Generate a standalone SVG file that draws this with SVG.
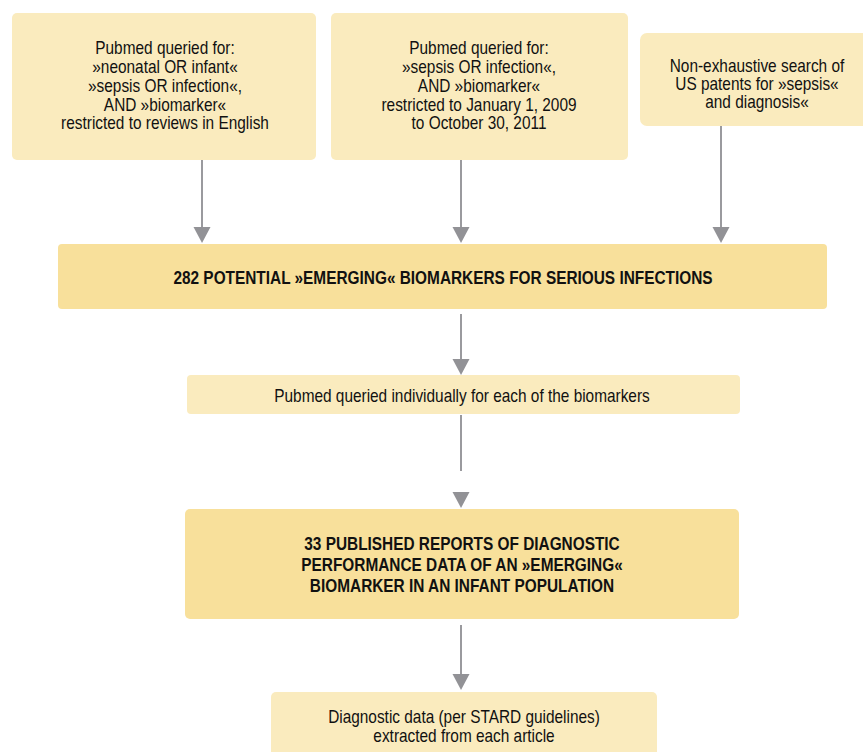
<svg xmlns="http://www.w3.org/2000/svg" xmlns:xlink="http://www.w3.org/1999/xlink" width="863" height="752" viewBox="0 0 863 752">
<style>
.lt{fill:#FAEBBE}
.dk{fill:#F8E09B}
.t{font-family:"Liberation Sans",Arial,sans-serif;font-size:17.5px;fill:#111;text-anchor:middle}
.b{font-weight:bold}
.ln{stroke:#9a9a9e;stroke-width:2;fill:none}
.ah{fill:#929296}
</style>
<defs>
<path id="ah" d="M-8.5,-16 L8.5,-16 L0,0 Z"/>
</defs>
<rect width="863" height="752" fill="#fff"/>
<g id="connectors">
<line class="ln" x1="202" y1="160" x2="202" y2="230"/>
<use href="#ah" class="ah" x="202" y="243"/>
<line class="ln" x1="461" y1="160" x2="461" y2="230"/>
<use href="#ah" class="ah" x="461" y="243"/>
<line class="ln" x1="721" y1="126" x2="721" y2="230"/>
<use href="#ah" class="ah" x="721" y="243"/>
<line class="ln" x1="461" y1="314" x2="461" y2="362"/>
<use href="#ah" class="ah" x="461" y="375"/>
<line class="ln" x1="461" y1="415" x2="461" y2="471"/>
<use href="#ah" class="ah" x="461" y="508"/>
<line class="ln" x1="461" y1="625" x2="461" y2="676"/>
<use href="#ah" class="ah" x="461" y="690"/>
</g>
<g id="n1">
<rect class="lt" x="12" y="13" width="304" height="147" rx="5"/>
<g transform="translate(165,0) scale(0.88,1)">
<text class="t" x="0" y="54">Pubmed queried for:</text>
<text class="t" x="0" y="73">»neonatal OR infant«</text>
<text class="t" x="0" y="92">»sepsis OR infection«,</text>
<text class="t" x="0" y="111">AND »biomarker«</text>
<text class="t" x="0" y="129">restricted to reviews in English</text>
</g>
</g>
<g id="n2">
<rect class="lt" x="331" y="13" width="297" height="147" rx="5"/>
<g transform="translate(479,0) scale(0.88,1)">
<text class="t" x="0" y="54">Pubmed queried for:</text>
<text class="t" x="0" y="73">»sepsis OR infection«,</text>
<text class="t" x="0" y="92">AND »biomarker«</text>
<text class="t" x="0" y="111">restricted to January 1, 2009</text>
<text class="t" x="0" y="129">to October 30, 2011</text>
</g>
</g>
<g id="n3">
<rect class="lt" x="640" y="33" width="235" height="93" rx="7"/>
<g transform="translate(757,0) scale(0.88,1)">
<text class="t" x="0" y="72">Non-exhaustive search of</text>
<text class="t" x="0" y="90">US patents for »sepsis«</text>
<text class="t" x="0" y="108">and diagnosis«</text>
</g>
</g>
<g id="n4">
<rect class="dk" x="58" y="244" width="769" height="65" rx="4"/>
<g transform="translate(443,0) scale(0.88,1)">
<text class="t b" x="0" y="284">282 POTENTIAL »EMERGING« BIOMARKERS FOR SERIOUS INFECTIONS</text>
</g>
</g>
<g id="n5">
<rect class="lt" x="187" y="375" width="553" height="39" rx="4"/>
<g transform="translate(462,0) scale(0.88,1)">
<text class="t" x="0" y="402">Pubmed queried individually for each of the biomarkers</text>
</g>
</g>
<g id="n6">
<rect class="dk" x="185" y="509" width="554" height="110" rx="5"/>
<g transform="translate(462,0) scale(0.88,1)">
<text class="t b" x="0" y="550">33 PUBLISHED REPORTS OF DIAGNOSTIC</text>
<text class="t b" x="0" y="571">PERFORMANCE DATA OF AN »EMERGING«</text>
<text class="t b" x="0" y="592">BIOMARKER IN AN INFANT POPULATION</text>
</g>
</g>
<g id="n7">
<rect class="lt" x="271" y="692" width="386" height="70" rx="5"/>
<g transform="translate(464,0) scale(0.88,1)">
<text class="t" x="0" y="723">Diagnostic data (per STARD guidelines)</text>
<text class="t" x="0" y="742">extracted from each article</text>
</g>
</g>
</svg>
